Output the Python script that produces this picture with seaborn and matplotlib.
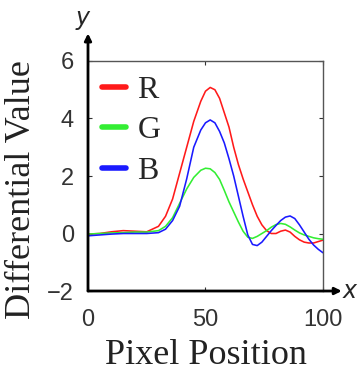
import numpy as np
import pandas as pd
import matplotlib
matplotlib.use("Agg")
import matplotlib.pyplot as plt
import seaborn as sns

# values
pixel = [0, 5, 10, 15, 20, 25, 30, 33, 36, 39, 42, 45, 48, 50, 52, 54, 56, 58, 60,
         62, 64, 66, 68, 70, 72, 74, 76, 78, 80, 82, 84, 86, 88, 90, 92, 94, 96, 98, 100]
r_vals = [-0.02, 0.0, 0.06, 0.1, 0.08, 0.06, 0.25, 0.6, 1.2, 2.1, 3.0, 3.9, 4.6, 4.95, 5.08,
          5.0, 4.7, 4.2, 3.7, 3.0, 2.4, 1.9, 1.45, 1.0, 0.6, 0.3, 0.1, 0.0, 0.0, 0.08, 0.12,
          0.05, -0.1, -0.22, -0.3, -0.33, -0.33, -0.28, -0.23]
g_vals = [-0.02, 0.0, 0.02, 0.03, 0.05, 0.05, 0.1, 0.25, 0.55, 1.05, 1.55, 1.95, 2.2, 2.27,
          2.25, 2.12, 1.88, 1.5, 1.1, 0.75, 0.4, 0.08, -0.13, -0.17, -0.1, 0.0, 0.1, 0.22,
          0.31, 0.35, 0.32, 0.23, 0.12, 0.02, -0.05, -0.1, -0.15, -0.18, -0.2]
b_vals = [-0.08, -0.05, -0.02, 0.0, 0.0, 0.0, 0.03, 0.15, 0.45, 0.95, 1.9, 3.0, 3.6, 3.85,
          3.95, 3.85, 3.55, 3.15, 2.6, 2.0, 1.3, 0.6, -0.05, -0.38, -0.42, -0.3, -0.1, 0.1,
          0.28, 0.45, 0.57, 0.61, 0.52, 0.3, 0.05, -0.2, -0.4, -0.55, -0.67]
channels = ["R", "G", "B"]
colors = {"R": "#ff1a1a", "G": "#33ee33", "B": "#1a1aff"}

df = pd.concat([
    pd.DataFrame({"Pixel": pixel, "Value": v, "Channel": c})
    for c, v in zip(channels, [r_vals, g_vals, b_vals])
])

sns.set_style("ticks")
serif = ["Liberation Serif", "DejaVu Serif"]
sans = ["Liberation Sans", "DejaVu Sans"]

fig = plt.figure(figsize=(3.58, 3.71), dpi=100)
ax = fig.add_axes([0.2458, 0.2156, 0.6564, 0.62])

sns.lineplot(data=df, x="Pixel", y="Value", hue="Channel", hue_order=channels,
             palette=colors, linewidth=1.15, ax=ax)

ax.set_xlim(0, 100)
ax.set_ylim(-2, 6)
ax.set_xticks([0, 50, 100])
ax.set_yticks([-2, 0, 2, 4, 6])
ax.tick_params(direction="in", length=3, width=0.8, top=True, right=True,
               labelsize=17, colors="#333333", labelcolor="#333333")
ax.tick_params(axis="x", pad=13)
ax.tick_params(axis="y", pad=10)
for lab in ax.get_xticklabels() + ax.get_yticklabels():
    lab.set_family(sans)

ax.set_xlabel("Pixel Position", family=serif, fontsize=26, labelpad=6, color="#222222")
ax.set_ylabel("Differential Value", family=serif, fontsize=26, color="#222222")
ax.yaxis.set_label_coords(-0.213, 0.443)

for s in ["top", "right"]:
    ax.spines[s].set_color("#555555")
    ax.spines[s].set_linewidth(1.0)
ax.spines["left"].set_visible(False)
ax.spines["bottom"].set_visible(False)

# axis arrows
arrow = dict(arrowstyle="-|>", color="black", lw=2, mutation_scale=10, shrinkA=0, shrinkB=0)
ax.annotate("", xy=(0, 1.12), xytext=(0, 0), xycoords="axes fraction",
            textcoords="axes fraction", arrowprops=arrow, annotation_clip=False)
ax.annotate("", xy=(1.08, 0), xytext=(0, 0), xycoords="axes fraction",
            textcoords="axes fraction", arrowprops=arrow, annotation_clip=False)
ax.text(-0.02, 1.18, "$y$", transform=ax.transAxes, fontsize=17, ha="center", va="center")
ax.text(1.115, 0.0, "$x$", transform=ax.transAxes, fontsize=17, ha="center", va="center")

leg = ax.legend(loc="upper left", frameon=False, prop={"family": serif, "size": 23},
                handlelength=0.75, handletextpad=0.35, labelspacing=0.35,
                borderpad=0.25, borderaxespad=0.2)
for line in leg.get_lines():
    line.set_linewidth(4)

fig.savefig("out.png", dpi=100)
